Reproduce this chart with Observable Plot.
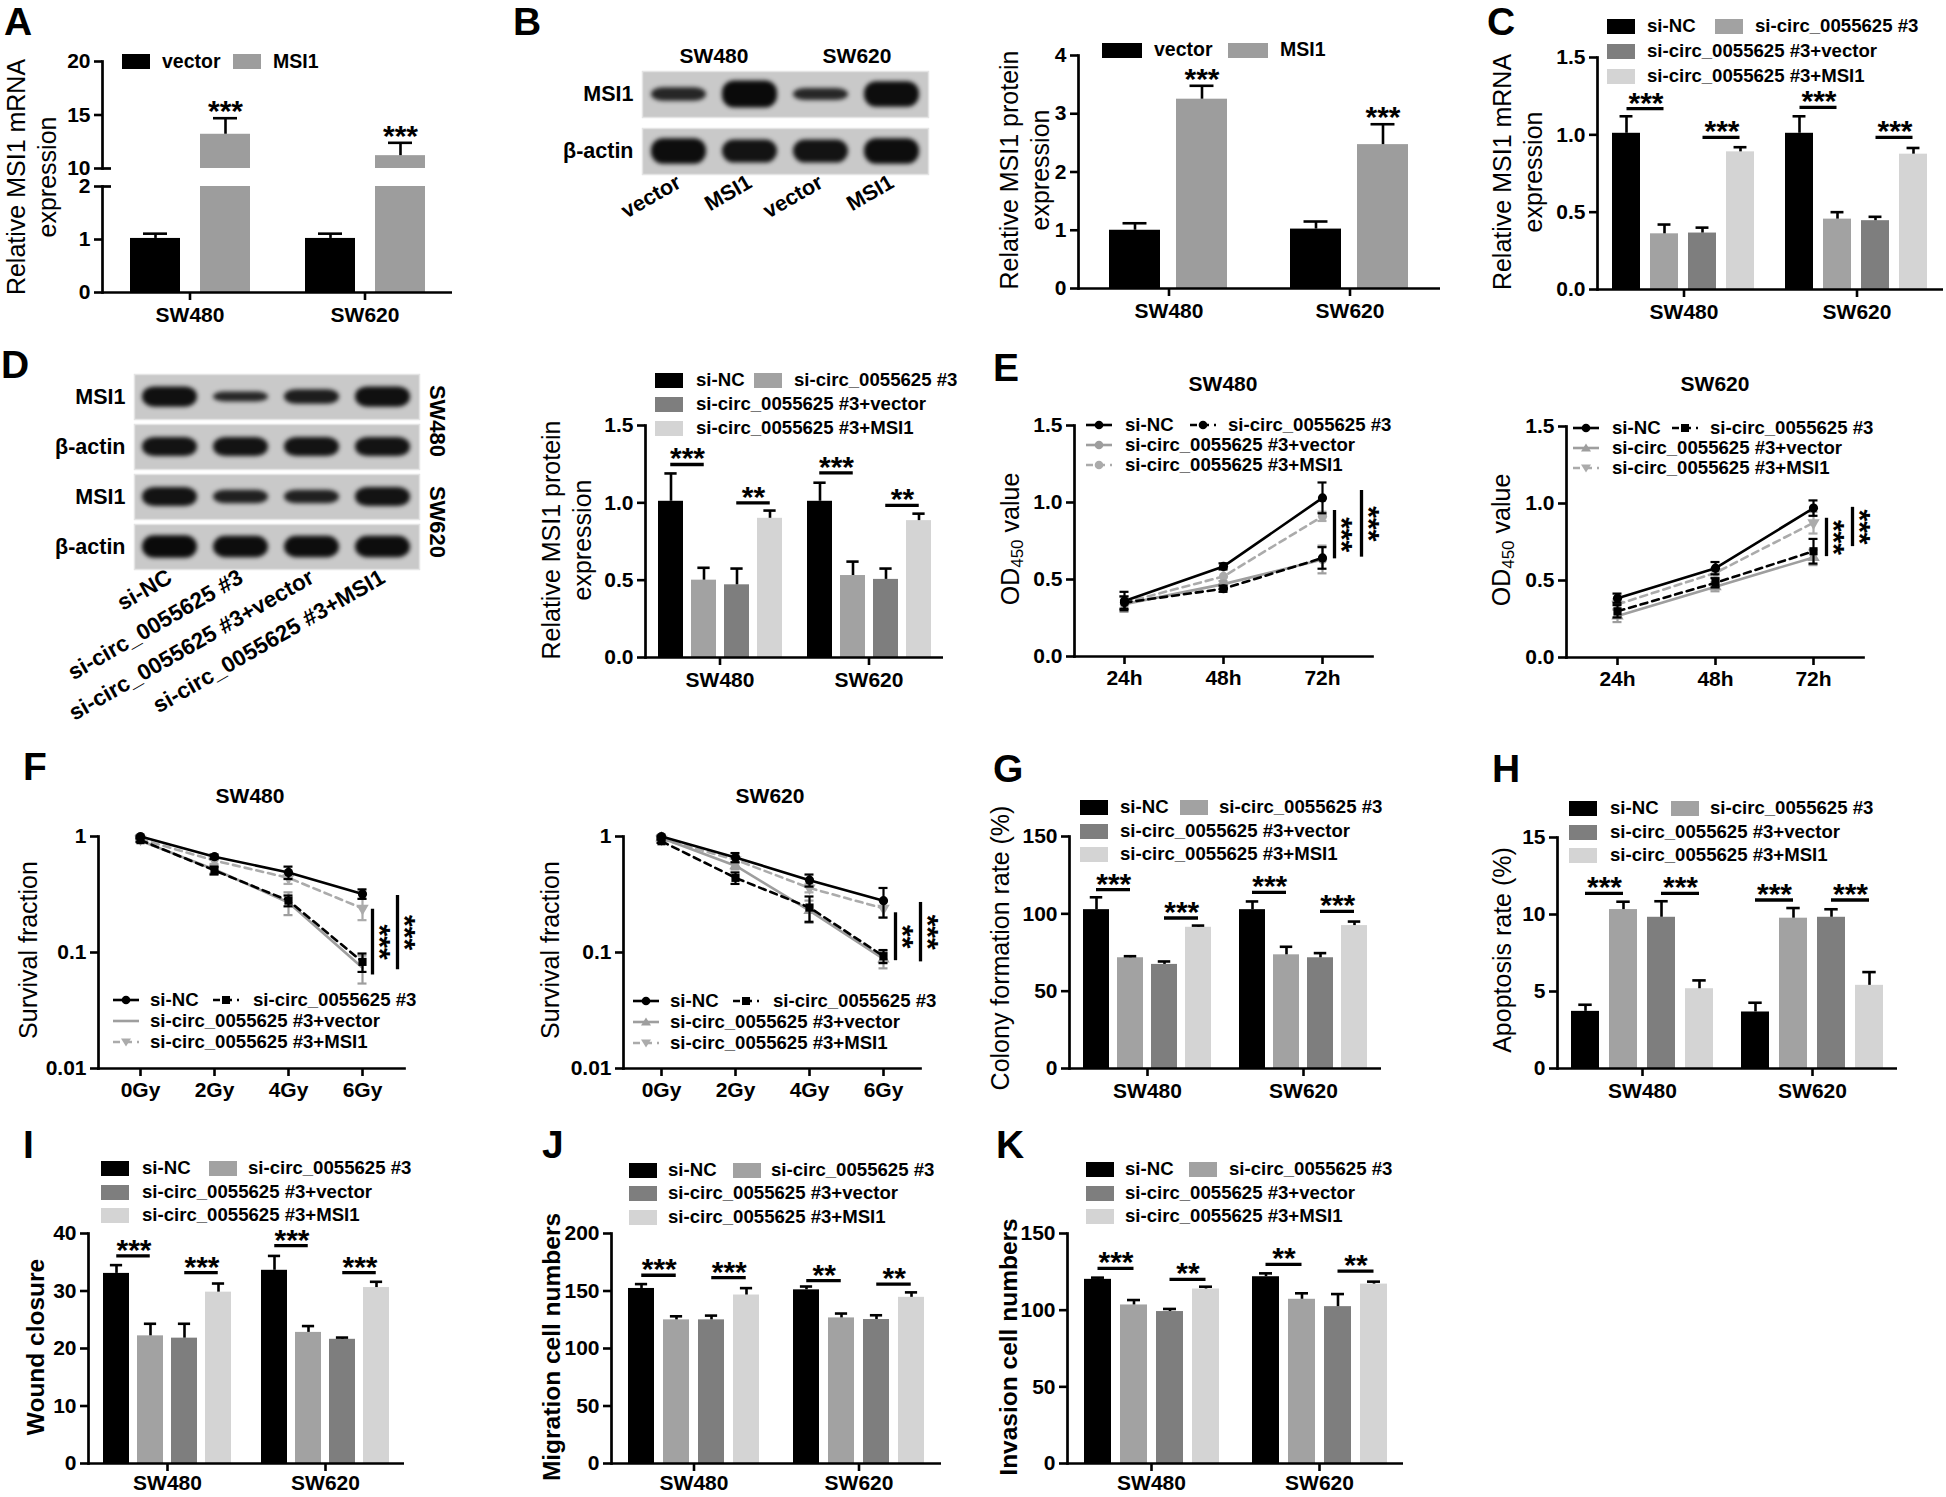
<!DOCTYPE html>
<html>
<head>
<meta charset="utf-8">
<title>MSI1 figure</title>
<script src="https://cdn.jsdelivr.net/npm/d3@7"></script>
<script src="https://cdn.jsdelivr.net/npm/@observablehq/plot@0.6"></script>
<style>
  html, body { margin: 0; padding: 0; background: #fff; }
  #fig { position: relative; width: 1946px; height: 1497px; background: #fff; overflow: hidden;
         font-family: "Liberation Sans", Arial, Helvetica, sans-serif; color: #000; }
  .letter { font-weight: bold; font-size: 39px; line-height: 1.15; white-space: nowrap; }
  .ytitle { font-size: 25px; line-height: 31px; white-space: nowrap; text-align: center;
            transform: translate(-50%, -50%) rotate(-90deg); }
  .ytitle.bold { font-weight: bold; font-size: 24.5px; }
  .ytitle sub { font-size: 17px; vertical-align: -4px; line-height: 0; }
  .ptitle { font-weight: bold; font-size: 21px; line-height: 1; white-space: nowrap; transform: translate(-50%, -50%); }
  .rlabel { font-weight: bold; font-size: 22px; line-height: 1; white-space: nowrap; transform: translate(-50%, -50%) rotate(90deg); }
  .legtext { font-weight: bold; font-size: 18.6px; line-height: 1; white-space: nowrap; transform: translateY(-50%); }
</style>
</head>
<body>
<div id="fig"></div>
<script>
// ================= DATA =================
const GROUPS = ["SW480", "SW620"];
const S2 = ["vector", "MSI1"];
const S4 = ["si-NC", "si-circ_0055625 #3", "si-circ_0055625 #3+vector", "si-circ_0055625 #3+MSI1"];

// A: relative MSI1 mRNA (vector vs MSI1)
const aMean = [[1.02, 13.2], [1.02, 11.2]];
const aErr  = [[0.09, 1.5], [0.09, 1.2]];
const aStars = [["SW480", 1, "***"], ["SW620", 1, "***"]];

// B: relative MSI1 protein (vector vs MSI1) + blot band strengths
const bMean = [[1.0, 3.25], [1.02, 2.47]];
const bErr  = [[0.12, 0.23], [0.13, 0.35]];
const bStars = [["SW480", 1, "***"], ["SW620", 1, "***"]];
const bLanes = ["SW480|vector", "SW480|MSI1", "SW620|vector", "SW620|MSI1"];
const bRows = ["MSI1", "β-actin"];
const bBands = [[0.5, 1.0, 0.45, 0.95], [0.95, 0.85, 0.85, 0.95]];

// C: relative MSI1 mRNA (4 groups)
const cMean = [[1.01, 0.36, 0.365, 0.89], [1.01, 0.455, 0.445, 0.875]];
const cErr  = [[0.11, 0.06, 0.035, 0.03], [0.11, 0.045, 0.025, 0.04]];
const cSig  = [["SW480", 0, 1, 1.17, "***"], ["SW480", 2, 3, 0.983, "***"], ["SW620", 0, 1, 1.177, "***"], ["SW620", 2, 3, 0.983, "***"]];

// D: blot + relative MSI1 protein
const dRows = ["SW480|MSI1", "SW480|β-actin", "SW620|MSI1", "SW620|β-actin"];
const dBands = [[0.9, 0.45, 0.65, 0.9], [0.85, 0.85, 0.85, 0.85], [0.85, 0.6, 0.6, 0.85], [1.0, 0.95, 0.95, 0.95]];
const dMean = [[1.01, 0.50, 0.47, 0.90], [1.01, 0.53, 0.505, 0.885]];
const dErr  = [[0.18, 0.08, 0.105, 0.05], [0.12, 0.09, 0.07, 0.045]];
const dSig  = [["SW480", 0, 1, 1.248, "***"], ["SW480", 2, 3, 1.0, "**"], ["SW620", 0, 1, 1.194, "***"], ["SW620", 2, 3, 0.983, "**"]];

// E: CCK-8 OD450
const eTimes = ["24h", "48h", "72h"];
const e480Mean = [[0.36, 0.585, 1.03], [0.35, 0.44, 0.64], [0.34, 0.47, 0.63], [0.35, 0.52, 0.91]];
const e480Err  = [[0.06, 0.02, 0.10], [0.04, 0.02, 0.07], [0.05, 0.02, 0.09], [0.04, 0.05, 0.03]];
const e480Sig  = [[0.634, 0.948, "***"], [0.645, 1.078, "***"]];
const e620Mean = [[0.385, 0.58, 0.97], [0.30, 0.485, 0.69], [0.27, 0.46, 0.65], [0.345, 0.55, 0.875]];
const e620Err  = [[0.03, 0.04, 0.05], [0.04, 0.03, 0.08], [0.04, 0.03, 0.05], [0.03, 0.03, 0.07]];
const e620Sig  = [[0.655, 0.904, "***"], [0.72, 0.975, "***"]];

// F: survival fraction
const fDoses = ["0Gy", "2Gy", "4Gy", "6Gy"];
const f480Mean = [[1.0, 0.67, 0.49, 0.32], [0.93, 0.51, 0.28, 0.083], [0.92, 0.52, 0.27, 0.074], [0.95, 0.62, 0.44, 0.24]];
const f480Err  = [[0.02, 0.03, 0.06, 0.03], [0.03, 0.04, 0.03, 0.015], [0.03, 0.04, 0.06, 0.02], [0.02, 0.04, 0.05, 0.05]];
const f480Sig  = [[0.064, 0.236, "***"], [0.071, 0.31, "***"]];
const f620Mean = [[1.0, 0.66, 0.42, 0.28], [0.91, 0.44, 0.244, 0.093], [0.97, 0.56, 0.23, 0.088], [0.95, 0.63, 0.36, 0.24]];
const f620Err  = [[0.02, 0.06, 0.05, 0.08], [0.03, 0.05, 0.06, 0.012], [0.02, 0.04, 0.05, 0.015], [0.02, 0.04, 0.03, 0.04]];
const f620Sig  = [[0.085, 0.22, "**"], [0.083, 0.27, "***"]];

// G: colony formation
const gMean = [[102.7, 71.6, 67.3, 91.3], [102.7, 73.5, 71.6, 92.4]];
const gErr  = [[8, 1, 1.9, 1.1], [5.3, 5.2, 3, 2.6]];
const gSig  = [["SW480", 0, 1, 115.6, "***"], ["SW480", 2, 3, 97.3, "***"], ["SW620", 0, 1, 113.9, "***"], ["SW620", 2, 3, 101.6, "***"]];

// H: apoptosis
const hMean = [[3.71, 10.32, 9.82, 5.18], [3.67, 9.76, 9.82, 5.4]];
const hErr  = [[0.43, 0.51, 1.04, 0.54], [0.6, 0.66, 0.52, 0.86]];
const hSig  = [["SW480", 0, 1, 11.37, "***"], ["SW480", 2, 3, 11.37, "***"], ["SW620", 0, 1, 10.94, "***"], ["SW620", 2, 3, 10.94, "***"]];

// I: wound closure
const iMean = [[33.06, 22.2, 21.8, 29.8], [33.6, 22.8, 21.6, 30.6]];
const iErr  = [[1.44, 2.1, 2.5, 1.5], [2.5, 1.1, 0.3, 1.0]];
const iSig  = [["SW480", 0, 1, 36.1, "***"], ["SW480", 2, 3, 33.2, "***"], ["SW620", 0, 1, 37.9, "***"], ["SW620", 2, 3, 33.2, "***"]];

// J: migration
const jMean = [[152.2, 124.9, 124.9, 146.5], [151, 126.6, 125.2, 144.5]];
const jErr  = [[3.8, 3.1, 3.7, 6], [2.9, 3.8, 3.7, 4.3]];
const jSig  = [["SW480", 0, 1, 163.7, "***"], ["SW480", 2, 3, 161.7, "***"], ["SW620", 0, 1, 159, "**"], ["SW620", 2, 3, 156, "**"]];

// K: invasion
const kMean = [[120.1, 103.4, 99.1, 113.8], [121.8, 107.1, 102.3, 117]];
const kErr  = [[1.1, 3.2, 1.7, 1.5], [2.2, 3.9, 8.2, 1.6]];
const kSig  = [["SW480", 0, 1, 127.2, "***"], ["SW480", 2, 3, 120.1, "**"], ["SW620", 0, 1, 129.8, "**"], ["SW620", 2, 3, 125.5, "**"]];

// ================= STYLE =================
const C2 = ["#000000", "#9d9d9d"];
const C4 = ["#000000", "#a2a2a2", "#7e7e7e", "#d4d4d4"];
const FONT = '"Liberation Sans", Arial, Helvetica, sans-serif';
const baseStyle = {fontFamily: FONT, fontSize: "21px", fontWeight: "bold", background: "transparent", overflow: "visible", color: "#000"};
const AX = 2.7;       // axis line width
const fmt1 = d3.format(".1f");
const fmtInt = d => String(d);

const fig = document.getElementById("fig");
function put(el, x, y) { el.style.position = "absolute"; el.style.left = x + "px"; el.style.top = y + "px"; fig.appendChild(el); return el; }
function box(cls, html, x, y) { const d = document.createElement("div"); d.className = cls; d.innerHTML = html; return put(d, x, y); }

// ================= BAR CHART =================
function barChart(c) {
  const ml = 80, mr = 40, mt = 70, mb = 45;
  const groups = GROUPS;
  const W = c.right - c.axisX, H = c.bottom - c.top;
  const facetW = W / groups.length;
  const n = c.series.length, step = c.barW + c.gap;
  const rows = [];
  groups.forEach((g, gi) => c.series.forEach((s, si) => rows.push({group: g, series: s, mean: c.mean[gi][si], err: c.err[gi][si]})));
  const clip = !!c.clip;
  const marks = [
    Plot.barY(rows, {fx: "group", x: "series", y: "mean", fill: "series", clip}),
    Plot.ruleX(rows, {fx: "group", x: "series", y1: "mean", y2: d => d.mean + d.err, stroke: "#000", strokeWidth: 2.6, clip}),
    Plot.tickY(rows, {fx: "group", x: "series", y: d => d.mean + d.err, stroke: "#000", strokeWidth: 2.6, insetLeft: c.barW * 0.26, insetRight: c.barW * 0.26, clip})
  ];
  if (c.sig) {
    const sig = c.sig.map(s => ({group: s[0], a: c.series[s[1]], b: c.series[s[2]], y: s[3], label: s[4]}));
    marks.push(Plot.ruleY(sig, {fx: "group", x1: "a", x2: "b", y: "y", insetLeft: c.barW * 0.5, insetRight: c.barW * 0.5, strokeWidth: 3.3}));
    marks.push(Plot.text(sig, {fx: "group", x: "a", y: "y", text: "label", dx: step / 2, dy: 4, lineAnchor: "bottom", fontSize: 30}));
  }
  if (c.stars) {
    const st = c.stars.map(s => { const gi = groups.indexOf(s[0]); return {group: s[0], series: c.series[s[1]], top: c.mean[gi][s[1]] + c.err[gi][s[1]], label: s[2]}; });
    marks.push(Plot.text(st, {fx: "group", x: "series", y: "top", text: "label", dy: 3, lineAnchor: "bottom", fontSize: 30}));
  }
  if (c.baseline !== false) marks.push(Plot.ruleY([c.domain[0]], {strokeWidth: AX}));
  marks.push(Plot.frame({anchor: "left", fx: () => groups[0], strokeWidth: AX}));
  if (c.breakAt != null) marks.push(Plot.ruleY([c.breakAt], {fx: () => groups[0], insetRight: facetW - 9, strokeWidth: AX}));
  marks.push(Plot.axisY({ticks: c.ticks, tickFormat: c.fmt || fmtInt, tickSize: 8, tickPadding: 4, strokeWidth: 2.6, fontSize: 21, label: null}));
  if (c.showFx !== false) marks.push(Plot.axisFx({anchor: "bottom", tickSize: 8, tickPadding: c.fxPad ?? 7, strokeWidth: 2.6, fontSize: 21, label: null}));
  const fx = {domain: groups, padding: 0};
  if (c.showFx === false) fx.axis = null;
  const p = Plot.plot({
    width: ml + W + mr, height: mt + H + mb,
    marginLeft: ml, marginRight: mr, marginTop: mt, marginBottom: mb,
    style: baseStyle,
    fx,
    x: {domain: c.series, paddingInner: c.gap / step, paddingOuter: (facetW - n * step + c.gap) / (2 * step), axis: null},
    y: {domain: c.domain, label: null},
    color: {domain: c.series, range: c.colors},
    marks
  });
  put(p, c.axisX - ml, c.top - mt);
}

// ================= LINE CHART =================
function lineChart(c) {
  const ml = 80, mr = 80, mt = 20, mb = 50;
  const W = c.right - c.axisX, H = c.bottom - c.top;
  const rows = [];
  c.mean.forEach((arr, si) => arr.forEach((v, xi) => rows.push({si, x: c.xs[xi], mean: v, err: c.err[si][xi]})));
  const marks = [Plot.frame({anchor: "left", strokeWidth: AX}), Plot.frame({anchor: "bottom", strokeWidth: AX})];
  const order = [3, 2, 1, 0];
  order.forEach(si => {
    const st = c.styles[si];
    const d = rows.filter(r => r.si === si);
    marks.push(Plot.line(d, {x: "x", y: "mean", stroke: st.color, strokeWidth: 2.6, strokeDasharray: st.dash || null}));
    marks.push(Plot.ruleX(d, {x: "x", y1: r => r.mean - r.err, y2: r => r.mean + r.err, stroke: st.color, strokeWidth: 2.2}));
    marks.push(Plot.ruleY(d, {x1: "x", x2: "x", y: r => r.mean + r.err, stroke: st.color, strokeWidth: 2.2, insetLeft: -4.5, insetRight: -4.5}));
    marks.push(Plot.ruleY(d, {x1: "x", x2: "x", y: r => r.mean - r.err, stroke: st.color, strokeWidth: 2.2, insetLeft: -4.5, insetRight: -4.5}));
    if (st.sym) marks.push(Plot.dot(d, {x: "x", y: "mean", symbol: st.sym, fill: st.color, stroke: "none", r: 4.6, rotate: st.rot || 0}));
  });
  const last = c.xs[c.xs.length - 1];
  const mid = d => c.log ? Math.sqrt(d[0] * d[1]) : (d[0] + d[1]) / 2;
  c.sig.forEach((s, k) => {
    const off = c.sigOff[k];
    marks.push(Plot.ruleX([s], {x: () => last, y1: d => d[0], y2: d => d[1], dx: off, strokeWidth: 3.3}));
    marks.push(Plot.text([s], {x: () => last, y: mid, text: d => d[2], rotate: 90, dx: off + 7, fontSize: 30}));
  });
  marks.push(Plot.axisY({ticks: c.ticks, tickFormat: c.fmt, tickSize: 8, tickPadding: 4, strokeWidth: 2.6, fontSize: 21, label: null}));
  marks.push(Plot.axisX({tickSize: 8, tickPadding: 6, strokeWidth: 2.6, fontSize: 21, label: null}));
  const p = Plot.plot({
    width: ml + W + mr, height: mt + H + mb,
    marginLeft: ml, marginRight: mr, marginTop: mt, marginBottom: mb,
    style: baseStyle,
    x: {type: "point", domain: c.xs, padding: c.pad},
    y: c.log ? {type: "log", domain: c.domain} : {domain: c.domain},
    marks
  });
  put(p, c.axisX - ml, c.top - mt);
}

// ================= WESTERN BLOT =================
function blot(c) {
  const ml = 140, mr = 10, mt = 10, mb = 150;
  const W = c.right - c.left, H = c.bottom - c.top;
  const data = [];
  c.rows.forEach((r, ri) => c.lanes.forEach((l, li) => data.push({row: r, lane: l, v: c.levels[ri][li]})));
  const strip = d => d.split("|").pop();
  const p = Plot.plot({
    width: ml + W + mr, height: mt + H + mb,
    marginLeft: ml, marginRight: mr, marginTop: mt, marginBottom: mb,
    style: baseStyle,
    fy: {domain: c.rows, paddingInner: c.rowGap, paddingOuter: 0},
    x: {domain: c.lanes, paddingInner: 0.22, paddingOuter: 0.11},
    y: {domain: [-c.ext, c.ext], axis: null},
    marks: [
      Plot.frame({fill: "#c9c9c9", stroke: "#e4e4e4", strokeWidth: 1.5}),
      Plot.barY(data, {fy: "row", x: "lane", y1: d => -d.v, y2: d => d.v, fill: "#0a0a0a", fillOpacity: d => 0.72 + 0.28 * d.v, rx: 12, imageFilter: "blur(2.2px)"}),
      Plot.axisFy({anchor: "left", tickSize: 0, tickPadding: 9, fontSize: 21.5, tickFormat: strip, label: null}),
      Plot.axisX({anchor: "bottom", tickSize: 0, tickPadding: 6, tickRotate: -30, fontSize: c.laneFont || 21, tickFormat: strip, label: null})
    ]
  });
  put(p, c.left - ml, c.top - mt);
}

// ================= LEGENDS / TEXT =================
function swatch(x, yc, w, h, color) { const d = document.createElement("div"); d.style.width = w + "px"; d.style.height = h + "px"; d.style.background = color; put(d, x, yc - h / 2); }
function legText(x, yc, label, fs) { const d = document.createElement("div"); d.className = "legtext"; d.style.fontSize = fs + "px"; d.textContent = label; put(d, x, yc); }
function legend4(x1, t1, x2, t2, ys, fs = 18.6, w = 28, h = 15) {
  swatch(x1, ys[0], w, h, C4[0]); legText(t1, ys[0], S4[0], fs);
  swatch(x2, ys[0], w, h, C4[1]); legText(t2, ys[0], S4[1], fs);
  swatch(x1, ys[1], w, h, C4[2]); legText(t1, ys[1], S4[2], fs);
  swatch(x1, ys[2], w, h, C4[3]); legText(t1, ys[2], S4[3], fs);
}
function sample(x, yc, st) {
  const NS = "http://www.w3.org/2000/svg";
  const w = 26, h = 14, cx = 13, cy = 7;
  const svg = document.createElementNS(NS, "svg");
  svg.setAttribute("width", w); svg.setAttribute("height", h); svg.style.overflow = "visible";
  const ln = document.createElementNS(NS, "line");
  ln.setAttribute("x1", 0); ln.setAttribute("x2", w); ln.setAttribute("y1", cy); ln.setAttribute("y2", cy);
  ln.setAttribute("stroke", st.color); ln.setAttribute("stroke-width", 2.6);
  if (st.dash) ln.setAttribute("stroke-dasharray", st.dash);
  svg.appendChild(ln);
  if (st.sym) {
    let m;
    if (st.sym === "circle") { m = document.createElementNS(NS, "circle"); m.setAttribute("cx", cx); m.setAttribute("cy", cy); m.setAttribute("r", 4.3); }
    else if (st.sym === "square") { m = document.createElementNS(NS, "rect"); m.setAttribute("x", cx - 4); m.setAttribute("y", cy - 4); m.setAttribute("width", 8); m.setAttribute("height", 8); }
    else { m = document.createElementNS(NS, "path"); m.setAttribute("d", st.rot ? `M${cx - 5},${cy - 3.5}L${cx + 5},${cy - 3.5}L${cx},${cy + 4.5}Z` : `M${cx},${cy - 4.5}L${cx + 5},${cy + 3.5}L${cx - 5},${cy + 3.5}Z`); }
    m.setAttribute("fill", st.color);
    svg.appendChild(m);
  }
  put(svg, x, yc - h / 2);
}
function lineLegend(x1, t1, x2, t2, ys, styles, fs = 18.6) {
  sample(x1, ys[0], styles[0]); legText(t1, ys[0], S4[0], fs);
  sample(x2, ys[0], styles[1]); legText(t2, ys[0], S4[1], fs);
  sample(x1, ys[1], styles[2]); legText(t1, ys[1], S4[2], fs);
  sample(x1, ys[2], styles[3]); legText(t1, ys[2], S4[3], fs);
}
function letter(ch, x, capTop) { box("letter", ch, x, Math.max(0, capTop - 8)); }
function ytitle(cx, cy, html, bold) { const d = box("ytitle" + (bold ? " bold" : ""), html, cx, cy); return d; }

// ================= DRAW =================
// A
barChart({axisX: 102, right: 452, top: 61, bottom: 168, domain: [10, 20], ticks: [10, 15, 20], series: S2, colors: C2, mean: aMean, err: aErr, barW: 50, gap: 20, clip: true, showFx: false, baseline: false, breakAt: 10, stars: aStars});
barChart({axisX: 102, right: 452, top: 186, bottom: 292, domain: [0, 2], ticks: [0, 1, 2], series: S2, colors: C2, mean: aMean, err: aErr, barW: 50, gap: 20, clip: true, breakAt: 2});
// B
blot({left: 642, right: 928, top: 71, bottom: 174, rows: bRows, lanes: bLanes, levels: bBands, rowGap: 0.193, ext: 1.7, laneFont: 21.5});
barChart({axisX: 1077, right: 1440, top: 55, bottom: 288, domain: [0, 4], ticks: [0, 1, 2, 3, 4], series: S2, colors: C2, mean: bMean, err: bErr, barW: 52, gap: 16, stars: bStars});
// C
barChart({axisX: 1596, right: 1943, top: 57, bottom: 289, domain: [0, 1.5], ticks: [0, 0.5, 1, 1.5], fmt: fmt1, series: S4, colors: C4, mean: cMean, err: cErr, barW: 29, gap: 10, sig: cSig});
// D
blot({left: 134, right: 419, top: 373, bottom: 570, rows: dRows, lanes: S4, levels: dBands, rowGap: 0.105, ext: 2.0, laneFont: 22.5});
barChart({axisX: 645, right: 943, top: 425, bottom: 657, domain: [0, 1.5], ticks: [0, 0.5, 1, 1.5], fmt: fmt1, series: S4, colors: C4, mean: dMean, err: dErr, barW: 24.5, gap: 8.5, sig: dSig});
// E
const eSty480 = [
  {color: "#000", sym: "circle"}, {color: "#000", dash: "7,5", sym: "circle"},
  {color: "#9e9e9e", sym: "circle"}, {color: "#ababab", dash: "7,5", sym: "circle"}];
const eSty620 = [
  {color: "#000", sym: "circle"}, {color: "#000", dash: "7,5", sym: "square"},
  {color: "#9e9e9e", sym: "triangle"}, {color: "#ababab", dash: "7,5", sym: "triangle", rot: 180}];
lineChart({axisX: 1074, right: 1372, top: 425, bottom: 656, xs: eTimes, pad: 0.505, domain: [0, 1.5], ticks: [0, 0.5, 1, 1.5], fmt: fmt1, mean: e480Mean, err: e480Err, styles: eSty480, sig: e480Sig, sigOff: [12, 39]});
lineChart({axisX: 1566, right: 1863, top: 426, bottom: 657, xs: eTimes, pad: 0.505, domain: [0, 1.5], ticks: [0, 0.5, 1, 1.5], fmt: fmt1, mean: e620Mean, err: e620Err, styles: eSty620, sig: e620Sig, sigOff: [13, 39]});
// F
const fSty480 = [
  {color: "#000", sym: "circle"}, {color: "#000", dash: "7,5", sym: "square"},
  {color: "#9e9e9e"}, {color: "#ababab", dash: "7,5", sym: "triangle", rot: 180}];
const fSty620 = eSty620;
lineChart({axisX: 98, right: 404, top: 836, bottom: 1068, xs: fDoses, pad: 0.56, log: true, domain: [0.01, 1], ticks: [0.01, 0.1, 1], fmt: fmtInt, mean: f480Mean, err: f480Err, styles: fSty480, sig: f480Sig, sigOff: [10, 35]});
lineChart({axisX: 623, right: 920, top: 836, bottom: 1068, xs: fDoses, pad: 0.5, log: true, domain: [0.01, 1], ticks: [0.01, 0.1, 1], fmt: fmtInt, mean: f620Mean, err: f620Err, styles: fSty620, sig: f620Sig, sigOff: [12, 37]});
// G, H
barChart({axisX: 1068, right: 1381, top: 836, bottom: 1068, domain: [0, 150], ticks: [0, 50, 100, 150], series: S4, colors: C4, mean: gMean, err: gErr, barW: 26, gap: 8.5, sig: gSig});
barChart({axisX: 1557, right: 1897, top: 837, bottom: 1068, domain: [0, 15], ticks: [0, 5, 10, 15], series: S4, colors: C4, mean: hMean, err: hErr, barW: 28, gap: 10, sig: hSig});
// I, J, K
barChart({axisX: 87, right: 404, top: 1233, bottom: 1463, domain: [0, 40], ticks: [0, 10, 20, 30, 40], series: S4, colors: C4, mean: iMean, err: iErr, barW: 26.5, gap: 8.5, sig: iSig, fxPad: 4});
barChart({axisX: 611, right: 941, top: 1233, bottom: 1463, domain: [0, 200], ticks: [0, 50, 100, 150, 200], series: S4, colors: C4, mean: jMean, err: jErr, barW: 26.5, gap: 9, sig: jSig, fxPad: 4});
barChart({axisX: 1067, right: 1403, top: 1233, bottom: 1463, domain: [0, 150], ticks: [0, 50, 100, 150], series: S4, colors: C4, mean: kMean, err: kErr, barW: 27, gap: 9, sig: kSig, fxPad: 4});

// ----- legends -----
swatch(122, 61.5, 28, 15, C2[0]); legText(162, 61.5, S2[0], 19.5);
swatch(233, 61.5, 28, 15, C2[1]); legText(273, 61.5, S2[1], 19.5);
swatch(1102, 50, 40, 15, C2[0]); legText(1154, 50, S2[0], 19.5);
swatch(1228, 50, 40, 15, C2[1]); legText(1280, 50, S2[1], 19.5);
legend4(1607, 1647, 1715, 1755, [26, 51, 76]);
legend4(655, 696, 754, 794, [380, 404, 428]);
legend4(1080, 1120, 1180, 1219, [807, 831, 854]);
legend4(1569, 1610, 1671, 1710, [808, 832, 855]);
legend4(101, 142, 209, 248, [1168, 1192, 1215]);
legend4(629, 668, 733, 771, [1170, 1193, 1217]);
legend4(1086, 1125, 1189, 1229, [1169, 1193, 1216]);
lineLegend(1086, 1125, 1190, 1228, [425, 445, 465], eSty480);
lineLegend(1573, 1612, 1672, 1710, [428, 448, 468], eSty620);
lineLegend(113, 150, 213, 253, [1000, 1021, 1042], fSty480);
lineLegend(633, 670, 733, 773, [1001, 1022, 1043], fSty620);

// ----- titles / labels -----
box("ptitle", "SW480", 714, 55);
box("ptitle", "SW620", 857, 55);
box("rlabel", "SW480", 437, 421);
box("rlabel", "SW620", 437, 522);
box("ptitle", "SW480", 1223, 383);
box("ptitle", "SW620", 1715, 383);
box("ptitle", "SW480", 250, 795);
box("ptitle", "SW620", 770, 795);

ytitle(32, 177, "Relative MSI1 mRNA<br>expression");
ytitle(1025, 170, "Relative MSI1 protein<br>expression");
ytitle(1518, 172, "Relative MSI1 mRNA<br>expression");
ytitle(567, 540, "Relative MSI1 protein<br>expression");
ytitle(1010, 539, "OD<sub>450</sub> value");
ytitle(1501, 540, "OD<sub>450</sub> value");
ytitle(28, 950, "Survival fraction");
ytitle(550, 950, "Survival fraction");
ytitle(1000, 948, "Colony formation rate (%)");
ytitle(1502, 950, "Apoptosis rate (%)");
ytitle(35, 1347, "Wound closure", true);
ytitle(551, 1347, "Migration cell numbers", true);
ytitle(1008, 1347, "Invasion cell numbers", true);

letter("A", 4, 8);
letter("B", 513, 8);
letter("C", 1487, 8);
letter("D", 1, 351);
letter("E", 993, 354);
letter("F", 23, 753);
letter("G", 993, 755);
letter("H", 1492, 755);
letter("I", 23, 1131);
letter("J", 542, 1131);
letter("K", 996, 1131);
</script>
</body>
</html>
